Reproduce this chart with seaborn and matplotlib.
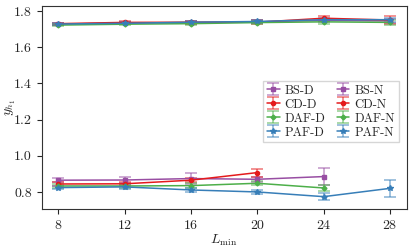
import matplotlib
matplotlib.use("Agg")
import matplotlib.pyplot as plt
import seaborn as sns
import numpy as np

# Data
L_min = [8, 12, 16, 20, 24, 28]
methods = ['BS', 'CD', 'DAF', 'PAF']

# "-D" series (lower branch), variable length
d_vals = {
    'BS':  [0.865, 0.866, 0.874, 0.870, 0.885],
    'CD':  [0.844, 0.845, 0.865, 0.907],
    'DAF': [0.833, 0.833, 0.835, 0.848, 0.822],
    'PAF': [0.824, 0.828, 0.811, 0.800, 0.774, 0.820],
}
d_errs = {
    'BS':  [0.012, 0.015, 0.030, 0.015, 0.046],
    'CD':  [0.010, 0.010, 0.012, 0.022],
    'DAF': [0.010, 0.010, 0.015, 0.012, 0.015],
    'PAF': [0.010, 0.010, 0.010, 0.012, 0.018, 0.048],
}

# "-N" series (upper branch)
n_vals = {
    'BS':  [1.728, 1.733, 1.736, 1.740, 1.748, 1.745],
    'CD':  [1.730, 1.737, 1.738, 1.738, 1.760, 1.750],
    'DAF': [1.722, 1.727, 1.730, 1.736, 1.740, 1.737],
    'PAF': [1.728, 1.732, 1.738, 1.742, 1.752, 1.752],
}
n_errs = {
    'BS':  [0.006, 0.006, 0.006, 0.008, 0.010, 0.012],
    'CD':  [0.006, 0.008, 0.008, 0.010, 0.015, 0.023],
    'DAF': [0.006, 0.006, 0.006, 0.008, 0.010, 0.012],
    'PAF': [0.006, 0.006, 0.006, 0.008, 0.010, 0.012],
}

colors = {'BS': '#984ea3', 'CD': '#e41a1c', 'DAF': '#4daf4a', 'PAF': '#377eb8'}
markers = {'BS': 's', 'CD': 'o', 'DAF': 'D', 'PAF': '*'}
msize = {'BS': 3, 'CD': 3, 'DAF': 2.5, 'PAF': 4}

sns.set_style('ticks')
plt.rcParams['font.family'] = 'serif'
plt.rcParams['font.serif'] = ['cmr10', 'DejaVu Serif']
plt.rcParams['mathtext.fontset'] = 'cm'
plt.rcParams['axes.formatter.use_mathtext'] = True
plt.rcParams['font.size'] = 10

fig = plt.figure(figsize=(4.15, 2.47), dpi=100)
ax = fig.add_axes([0.10, 0.154, 0.88, 0.822])

for suffix, vals, errs in [('D', d_vals, d_errs), ('N', n_vals, n_errs)]:
    for m in methods:
        x = L_min[:len(vals[m])]
        cont = ax.errorbar(x, vals[m], yerr=errs[m], color=colors[m],
                           marker=markers[m], markersize=msize[m], lw=1.1,
                           capsize=4, elinewidth=1.1, capthick=1.1,
                           label=f'{m}-{suffix}')
        for art in cont[1] + cont[2]:
            art.set_alpha(0.6)

ax.set_xlim(7, 29)
ax.set_ylim(0.706, 1.828)
ax.set_xticks(L_min)
ax.set_yticks([0.8, 1.0, 1.2, 1.4, 1.6, 1.8])
ax.set_yticklabels(['0.8', '1.0', '1.2', '1.4', '1.6', '1.8'])
ax.set_xlabel(r'$L_{\min}$', labelpad=1)
ax.set_ylabel(r'$y_{h_1}$')
ax.yaxis.set_label_coords(-0.065, 0.5)
for sp in ax.spines.values():
    sp.set_color('#333333')

ax.legend(ncol=2, loc='center right', bbox_to_anchor=(0.995, 0.48),
          fontsize=9, frameon=True, handlelength=1.0, handletextpad=0.4,
          columnspacing=0.9, labelspacing=0.15, borderpad=0.3,
          fancybox=False, edgecolor='#cccccc')

fig.savefig('out.png', dpi=100)
